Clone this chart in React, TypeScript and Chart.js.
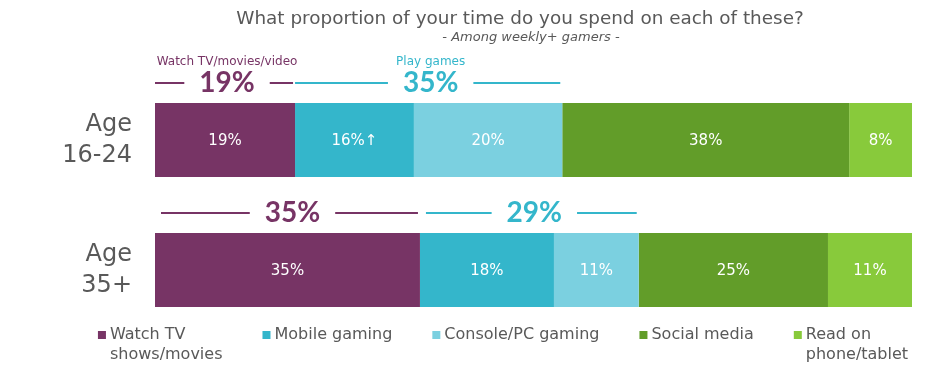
import React, { useEffect, useRef } from "react";
import { Chart, registerables } from "chart.js";

Chart.register(...registerables);

const categories = [["Age", "16-24"], ["Age", "35+"]];
const seriesNames = ["Watch TV shows/movies", "Mobile gaming", "Console/PC gaming", "Social media", "Read on phone/tablet"];
const legendLines = [["Watch TV", "shows/movies"], ["Mobile gaming"], ["Console/PC gaming"], ["Social media"], ["Read on", "phone/tablet"]];
const seriesColors = ["#773465", "#34B6CB", "#7BD0E0", "#629D29", "#88CA3B"];

const watchTV = [18.5, 35.0];
const mobileGaming = [15.7, 17.7];
const consolePC = [19.6, 11.2];
const socialMedia = [37.9, 25.0];
const readPhone = [8.3, 11.1];

const watchTVLabels = ["19%", "35%"];
const mobileLabels = ["16%↑", "18%"];
const consoleLabels = ["20%", "11%"];
const socialLabels = ["38%", "25%"];
const readLabels = ["8%", "11%"];

const groupNames = ["Watch TV/movies/video", "Play games"];
const groupColors = ["#773465", "#34B6CB"];
const groupSeries = [[0], [1, 2]];
const watchTVTotals = ["19%", "35%"];
const playGamesTotals = ["35%", "29%"];

const titleText = "What proportion of your time do you spend on each of these?";
const subtitleText = "- Among weekly+ gamers -";

const GRAY = "#595959";
const BODY_FONT = "'DejaVu Sans'";

const overlayPlugin = {
  id: "overlay",
  afterDatasetsDraw(chart: any) {
    const ctx = chart.ctx;
    ctx.save();
    ctx.textAlign = "center";
    ctx.textBaseline = "middle";
    // value labels inside bars
    ctx.fillStyle = "#ffffff";
    ctx.font = `15px ${BODY_FONT}`;
    chart.data.datasets.forEach((ds: any, i: number) => {
      const meta = chart.getDatasetMeta(i);
      meta.data.forEach((el: any, j: number) => {
        const p = el.getProps(["x", "y", "base"], true);
        ctx.fillText(ds.valueLabels[j], (p.x + p.base) / 2, p.y + 1);
      });
    });
    // group annotations
    const totals = [watchTVTotals, playGamesTotals];
    for (let j = 0; j < categories.length; j++) {
      groupSeries.forEach((series, g) => {
        const first = chart.getDatasetMeta(series[0]).data[j].getProps(["x", "y", "base", "height"], true);
        const last = chart.getDatasetMeta(series[series.length - 1]).data[j].getProps(["x"], true);
        const y = first.y - first.height / 2 - 20;
        const x0 = first.base + (j === 0 ? 0 : 6);
        const x1 = last.x - 2;
        const cx = (x0 + x1) / 2 + 3;
        const text = totals[g][j];
        ctx.font = "bold 28px Lato";
        const w = ctx.measureText(text).width;
        ctx.strokeStyle = groupColors[g];
        ctx.lineWidth = 2;
        ctx.beginPath();
        ctx.moveTo(x0, y);
        ctx.lineTo(cx - w / 2 - 15, y);
        ctx.moveTo(cx + w / 2 + 15, y);
        ctx.lineTo(x1, y);
        ctx.stroke();
        ctx.fillStyle = groupColors[g];
        ctx.fillText(text, cx, y);
        if (j === 0) {
          ctx.font = `12px ${BODY_FONT}`;
          ctx.fillText(groupNames[g], cx, y - 21);
        }
      });
    }
    ctx.restore();
  },
  afterDraw(chart: any) {
    const ctx = chart.ctx;
    ctx.save();
    ctx.textAlign = "center";
    ctx.textBaseline = "middle";
    ctx.fillStyle = GRAY;
    ctx.font = `18.4px ${BODY_FONT}`;
    ctx.fillText(titleText, 520, 19);
    ctx.font = `italic 13px ${BODY_FONT}`;
    ctx.fillText(subtitleText, 531, 38);

    // legend
    ctx.font = `16px ${BODY_FONT}`;
    ctx.textAlign = "left";
    const marker = 8;
    const gapMarker = 4;
    const gapItem = 40;
    const widths = legendLines.map((lines) => Math.max(...lines.map((l) => ctx.measureText(l).width)));
    const total = widths.reduce((a, w) => a + marker + gapMarker + w, 0) + gapItem * (widths.length - 1);
    let x = 503 - total / 2;
    const y = 335;
    legendLines.forEach((lines, i) => {
      ctx.fillStyle = seriesColors[i];
      ctx.fillRect(x, y - marker / 2, marker, marker);
      ctx.fillStyle = GRAY;
      lines.forEach((l, k) => ctx.fillText(l, x + marker + gapMarker, y + k * 20));
      x += marker + gapMarker + widths[i] + gapItem;
    });
    ctx.restore();
  },
};

export default function App() {
  const canvasRef = useRef<HTMLCanvasElement | null>(null);
  useEffect(() => {
    const values = [watchTV, mobileGaming, consolePC, socialMedia, readPhone];
    const labels = [watchTVLabels, mobileLabels, consoleLabels, socialLabels, readLabels];
    const chart = new Chart(canvasRef.current as HTMLCanvasElement, {
      type: "bar",
      data: {
        labels: categories,
        datasets: seriesNames.map((name, i) => ({
          label: name,
          data: values[i],
          valueLabels: labels[i],
          backgroundColor: seriesColors[i],
          borderWidth: 0,
          barPercentage: 1,
          categoryPercentage: 0.57,
        })) as any,
      },
      options: {
        indexAxis: "y",
        animation: false,
        responsive: true,
        maintainAspectRatio: false,
        layout: { padding: { top: 75, bottom: 43, left: 0, right: 34 } },
        plugins: {
          legend: { display: false },
          title: { display: false },
          tooltip: { enabled: false },
        },
        scales: {
          x: { stacked: true, min: 0, max: 100, display: false },
          y: {
            stacked: true,
            grid: { display: false, drawTicks: false },
            border: { display: false },
            ticks: {
              color: GRAY,
              padding: 23,
              font: { family: "DejaVu Sans", size: 24, lineHeight: 1.3 },
            },
            afterFit: (scale: any) => {
              scale.width = 155;
              scale.paddingTop = 0;
              scale.paddingBottom = 0;
            },
          },
        },
      } as any,
      plugins: [overlayPlugin],
    });
    return () => chart.destroy();
  }, []);
  return (
    <div style={{ position: "fixed", left: 0, top: 0, width: 946, height: 378, background: "#fff" }}>
      <canvas ref={canvasRef} />
    </div>
  );
}
